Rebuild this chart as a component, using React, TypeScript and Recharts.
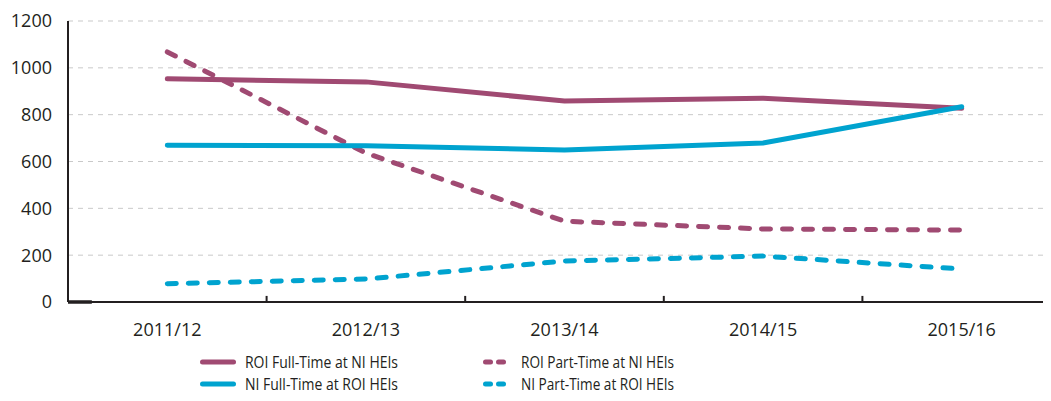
import { FC } from "react"
import { LineChart, Line, XAxis, YAxis, CartesianGrid, Legend, ReferenceLine } from "recharts"

const years = ["2011/12", "2012/13", "2013/14", "2014/15", "2015/16"]
const roiFullTime = [953, 940, 858, 870, 827]
const roiPartTime = [1068, 636, 345, 312, 307]
const niFullTime = [669, 667, 649, 679, 834]
const niPartTime = [78, 98, 175, 196, 141]
const yTicks = [0, 200, 400, 600, 800, 1000, 1200]
const boundaries = [1, 2, 3, 4]

const PURPLE = "#a04a72"
const BLUE = "#00a3cf"
const AXIS = "#231f20"
const FONT = "'Open Sans', 'Noto Sans', sans-serif"

const data = years.map((y, i) => ({
  x: i + 0.5,
  year: y,
  roiFt: roiFullTime[i],
  roiPt: roiPartTime[i],
  niFt: niFullTime[i],
  niPt: niPartTime[i],
}))

const series = [
  { key: "roiFt", name: "ROI Full-Time at NI HEIs", color: PURPLE, dashed: false },
  { key: "roiPt", name: "ROI Part-Time at NI HEIs", color: PURPLE, dashed: true },
  { key: "niFt", name: "NI Full-Time at ROI HEIs", color: BLUE, dashed: false },
  { key: "niPt", name: "NI Part-Time at ROI HEIs", color: BLUE, dashed: true },
]

// the original uses a condensed face, so squeeze the label to its width
const LegendBox: FC = () => {
  const item = (s: typeof series[number]) => (
    <div key={s.key} style={{ display: "flex", alignItems: "center", height: 22 }}>
      <svg width={s.dashed ? 28 : 40} height={10} style={{ marginRight: s.dashed ? 11 : 7 }}>
        {s.dashed ? (
          <>
            <line x1={3.5} y1={5} x2={8.5} y2={5} stroke={s.color} strokeWidth={5} strokeLinecap="round" />
            <line x1={16.5} y1={5} x2={21.5} y2={5} stroke={s.color} strokeWidth={5} strokeLinecap="round" />
          </>
        ) : (
          <line x1={4.5} y1={5} x2={35.5} y2={5} stroke={s.color} strokeWidth={5} strokeLinecap="round" />
        )}
      </svg>
      <svg width={215} height={22} style={{ marginRight: -55 }}>
        <text x={0} y={17} fontSize={17} fill="#231f20" fontFamily={FONT} textLength={153} lengthAdjust="spacingAndGlyphs">
          {s.name}
        </text>
      </svg>
    </div>
  )
  return (
    <div style={{ display: "flex", paddingLeft: 190 }}>
      <div style={{ width: 284 }}>
        {item(series[0])}
        {item(series[2])}
      </div>
      <div>
        {item(series[1])}
        {item(series[3])}
      </div>
    </div>
  )
}

export default function App() {
  return (
    <div style={{ width: 1043, overflow: "hidden" }}>
      <LineChart width={1060} height={393} data={data} margin={{ top: 13, right: 7, left: 0, bottom: 11 }}>
        <CartesianGrid vertical={false} stroke="#c9c9c9" strokeDasharray="5 5" horizontalValues={[200, 400, 600, 800, 1000, 1200]} />
        <XAxis
          dataKey="x"
          type="number"
          domain={[0, 5]}
          ticks={data.map(d => d.x)}
          tickFormatter={(v: number) => years[Math.floor(v)]}
          tickLine={false}
          axisLine={{ stroke: AXIS, strokeWidth: 2 }}
          tick={{ fill: "#231f20", fontSize: 18, fontFamily: FONT }}
          tickMargin={15}
          height={44}
        />
        <YAxis
          type="number"
          domain={[0, 1200]}
          ticks={yTicks}
          width={60}
          tickLine={false}
          axisLine={{ stroke: AXIS, strokeWidth: 2 }}
          tick={{ fill: "#231f20", fontSize: 18, fontFamily: FONT }}
          tickMargin={10}
        />
        {boundaries.map(b => (
          <ReferenceLine key={b} segment={[{ x: b, y: 0 }, { x: b, y: 26 }]} stroke={AXIS} strokeWidth={2} ifOverflow="visible" />
        ))}
        <ReferenceLine segment={[{ x: 0, y: 0 }, { x: 0.12, y: 0 }]} stroke={AXIS} strokeWidth={3.5} ifOverflow="visible" />
        {series.map(s => (
          <Line
            key={s.key}
            dataKey={s.key}
            name={s.name}
            type="linear"
            stroke={s.color}
            strokeWidth={5}
            strokeLinecap="round"
            strokeDasharray={s.dashed ? "9 12" : undefined}
            dot={false}
            activeDot={false}
            isAnimationActive={false}
          />
        ))}
        <Legend verticalAlign="bottom" content={() => <LegendBox />} wrapperStyle={{ bottom: 6 }} />
      </LineChart>
    </div>
  )
}
